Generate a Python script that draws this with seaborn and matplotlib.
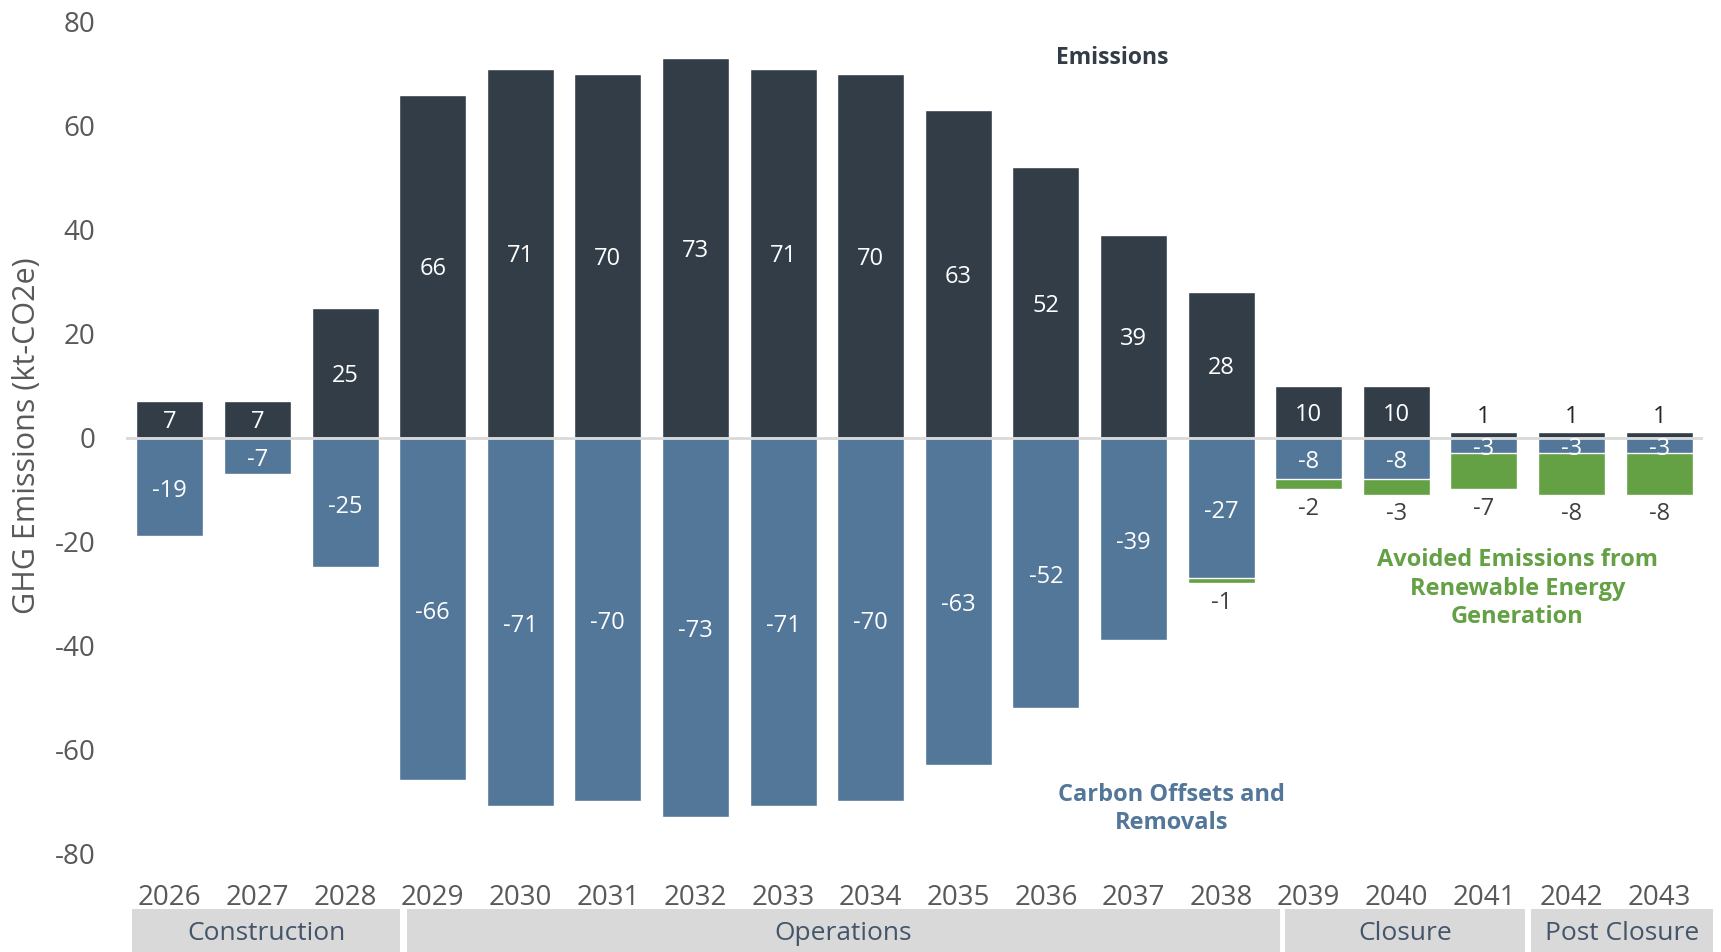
import matplotlib
matplotlib.use("Agg")
import matplotlib.pyplot as plt
from matplotlib.patches import Rectangle
from matplotlib.transforms import blended_transform_factory
import seaborn as sns
import pandas as pd

# ---- data -------------------------------------------------------------
years = [str(y) for y in range(2026, 2044)]
emissions = [7, 7, 25, 66, 71, 70, 73, 71, 70, 63, 52, 39, 28, 10, 10, 1, 1, 1]
offsets = [-19, -7, -25, -66, -71, -70, -73, -71, -70, -63, -52, -39, -27, -8, -8, -3, -3, -3]
avoided = [0, 0, 0, 0, 0, 0, 0, 0, 0, 0, 0, 0, -1, -2, -3, -7, -8, -8]
phases = ["Construction", "Operations", "Closure", "Post Closure"]
y_ticks = [-80, -60, -40, -20, 0, 20, 40, 60, 80]

# ---- style ------------------------------------------------------------
sns.set_theme(style="white")
plt.rcParams["font.family"] = ["Open Sans", "DejaVu Sans"]

C_EMIS = "#333d48"
C_OFFS = "#537799"
C_AVOID = "#64a044"
C_TICK = "#595959"
C_BAND = "#d9d9d9"
C_BANDTXT = "#44546a"

df = pd.DataFrame({"year": years, "emissions": emissions,
                   "offsets": offsets, "avoided": avoided})
df["neg_total"] = df["offsets"] + df["avoided"]

W, H = 1721, 952
fig = plt.figure(figsize=(W / 100, H / 100), dpi=100)
ax = fig.add_axes([126 / W, 1 - 853 / H, (1703 - 126) / W, (853 - 22) / H])

bar_w = 0.765
sns.barplot(data=df, x="year", y="emissions", color=C_EMIS, saturation=1,
            width=bar_w, errorbar=None, ax=ax, zorder=2)
sns.barplot(data=df, x="year", y="neg_total", color=C_AVOID, saturation=1,
            width=bar_w, errorbar=None, ax=ax, zorder=2)
sns.barplot(data=df, x="year", y="offsets", color=C_OFFS, saturation=1,
            width=bar_w, errorbar=None, ax=ax, zorder=3)

ax.axhline(0, color=C_BAND, lw=2, zorder=5)

ax.set_xlim(-0.5, 17.5)
ax.set_ylim(-80, 80)
ax.set_yticks(y_ticks)
ax.set_yticklabels([str(t) for t in y_ticks])
ax.tick_params(axis="y", length=0, pad=22, labelsize=20, labelcolor=C_TICK)
ax.tick_params(axis="x", length=0, pad=22, labelsize=20, labelcolor=C_TICK)
ax.set_xlabel("")
ax.set_ylabel("")
for s in ax.spines.values():
    s.set_visible(False)

fig.text(27 / W, 1 - 436 / H, "GHG Emissions (kt-CO2e)", rotation=90,
         ha="center", va="center", fontsize=22, color=C_TICK)

# ---- value labels -----------------------------------------------------
lbl = 17
for i, row in df.iterrows():
    e, o, a, tot = row["emissions"], row["offsets"], row["avoided"], row["neg_total"]
    if e >= 5:
        ax.text(i, e / 2 - 0.6, f"{e}", ha="center", va="center", color="white",
                fontsize=lbl, zorder=6)
    else:
        ax.text(i, e + 2.9, f"{e}", ha="center", va="center", color="#262626",
                fontsize=lbl, zorder=6)
    ax.text(i, o / 2 - 0.8, f"{o}", ha="center", va="center", color="white",
            fontsize=lbl, zorder=6)
    if a != 0:
        ax.text(i, tot - 3.8, f"{a}", ha="center", va="center", color="#404040",
                fontsize=lbl, zorder=6)

# ---- series annotations ----------------------------------------------
ax.text(10.76, 73.0, "Emissions", ha="center", va="center", color=C_EMIS,
        fontsize=16.5, fontweight="bold")
ax.text(11.43, -71.5, "Carbon Offsets and\nRemovals", ha="center", va="center",
        color=C_OFFS, fontsize=17, fontweight="bold", linespacing=1.25)
ax.text(15.38, -29.1, "Avoided Emissions from\nRenewable Energy\nGeneration",
        ha="center", va="center", color=C_AVOID, fontsize=17, fontweight="bold",
        linespacing=1.25)

# ---- phase bands under the year axis ---------------------------------
band_edges = [(-0.43, 2.63), (2.71, 12.67), (12.73, 15.47), (15.54, 17.61)]
trans = blended_transform_factory(ax.transData, fig.transFigure)
band_top = 1 - 909 / H
for name, (x0, x1) in zip(phases, band_edges):
    ax.add_patch(Rectangle((x0, 0), x1 - x0, band_top, transform=trans,
                           facecolor=C_BAND, edgecolor="none", clip_on=False))
    ax.text((x0 + x1) / 2, 1 - 933 / H, name, transform=trans, ha="center",
            va="center", fontsize=19, color=C_BANDTXT, clip_on=False)

fig.savefig("out.png", dpi=100)
